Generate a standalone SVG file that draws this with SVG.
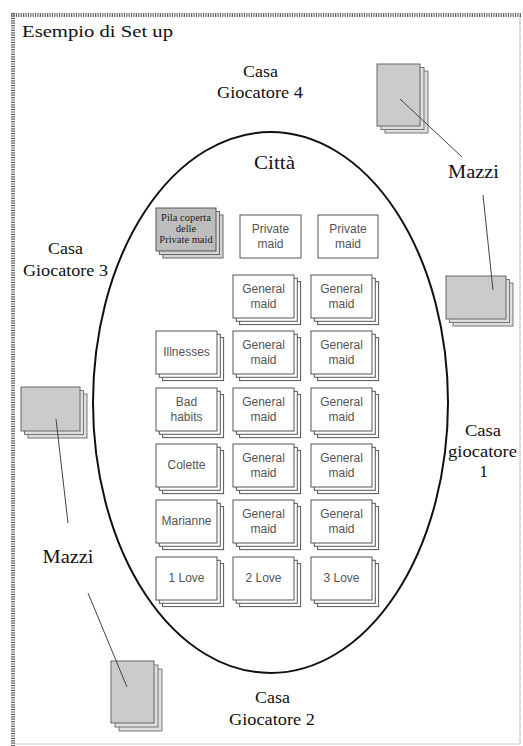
<svg xmlns="http://www.w3.org/2000/svg" width="523" height="746" viewBox="0 0 523 746">
<style>
.lbl{font-family:"Liberation Serif","Times New Roman",serif;font-size:17.5px;fill:#111;text-anchor:middle}
.ct{font-family:"Liberation Sans",Arial,sans-serif;font-size:12px;fill:#555;text-anchor:middle}
.pt{font-family:"Liberation Serif","Times New Roman",serif;font-size:10.5px;fill:#222;text-anchor:middle}
.card{fill:#fff;stroke:#555;stroke-width:1}
.deckf{fill:#cbcbcb;stroke:#666;stroke-width:1}
.deckb{fill:#dedede;stroke:#777;stroke-width:1}
.pilaf{fill:#bdbdbd;stroke:#555;stroke-width:1}
.pilab{fill:#d6d6d6;stroke:#666;stroke-width:1}
.conn{stroke:#444;stroke-width:1;fill:none}
</style>
<rect width="523" height="746" fill="#fff"/>
<g id="frame">
<line x1="13" y1="13" x2="13" y2="746" stroke="#666" stroke-width="4" stroke-dasharray="1.2 1.2"/>
<line x1="11" y1="15" x2="521" y2="15" stroke="#666" stroke-width="4" stroke-dasharray="1.2 1.2"/>
<line x1="520" y1="17" x2="520" y2="744" stroke="#888" stroke-width="1" stroke-dasharray="1 1"/>
<line x1="15" y1="744" x2="520" y2="744" stroke="#ccc" stroke-width="1"/>
</g>
<text class="lbl" x="22" y="37" style="text-anchor:start" textLength="151" lengthAdjust="spacingAndGlyphs">Esempio di Set up</text>
<g id="citta">
<ellipse cx="270.5" cy="402.5" rx="177.5" ry="270.5" fill="none" stroke="#111" stroke-width="2"/>
<text class="lbl" x="274.5" y="169" style="font-size:19px" textLength="41" lengthAdjust="spacingAndGlyphs">Città</text>
</g>
<g id="casa4">
<text class="lbl" x="260.5" y="77" textLength="35" lengthAdjust="spacingAndGlyphs">Casa</text>
<text class="lbl" x="260" y="98" textLength="86" lengthAdjust="spacingAndGlyphs">Giocatore 4</text>
</g>
<g id="casa3">
<text class="lbl" x="65.5" y="254" textLength="35" lengthAdjust="spacingAndGlyphs">Casa</text>
<text class="lbl" x="65.5" y="276" textLength="85" lengthAdjust="spacingAndGlyphs">Giocatore 3</text>
</g>
<g id="casa1">
<text class="lbl" x="483" y="436" textLength="36" lengthAdjust="spacingAndGlyphs">Casa</text>
<text class="lbl" x="482.5" y="457" textLength="69" lengthAdjust="spacingAndGlyphs">giocatore</text>
<text class="lbl" x="483.5" y="477">1</text>
</g>
<g id="casa2">
<text class="lbl" x="272.5" y="703" textLength="35" lengthAdjust="spacingAndGlyphs">Casa</text>
<text class="lbl" x="272" y="725" textLength="86" lengthAdjust="spacingAndGlyphs">Giocatore 2</text>
</g>
<g id="mazzi-right">
<text class="lbl" x="473.5" y="178" style="font-size:19px" textLength="51" lengthAdjust="spacingAndGlyphs">Mazzi</text>
</g>
<g id="mazzi-left">
<text class="lbl" x="68" y="563" style="font-size:19px" textLength="51" lengthAdjust="spacingAndGlyphs">Mazzi</text>
</g>
<g id="deck4">
<rect class="deckb" x="385" y="71" width="43" height="62"/>
<rect class="deckb" x="381" y="67.5" width="43" height="62"/>
<rect class="deckf" x="377" y="64" width="43" height="62"/>
</g>
<g id="deck1">
<rect class="deckb" x="453" y="283" width="60" height="43"/>
<rect class="deckb" x="449.5" y="279.5" width="60" height="43"/>
<rect class="deckf" x="446" y="276" width="60" height="43"/>
</g>
<g id="deck3">
<rect class="deckb" x="28" y="394" width="59" height="44"/>
<rect class="deckb" x="24.5" y="390.5" width="59" height="44"/>
<rect class="deckf" x="21" y="387" width="59" height="44"/>
</g>
<g id="deck2">
<rect class="deckb" x="119" y="669" width="43" height="62"/>
<rect class="deckb" x="115" y="665" width="43" height="62"/>
<rect class="deckf" x="111" y="661" width="43" height="62"/>
</g>
<g id="connectors">
<line class="conn" x1="400" y1="99" x2="462" y2="157"/>
<line class="conn" x1="483" y1="195" x2="493" y2="290"/>
<line class="conn" x1="56" y1="419" x2="68" y2="523"/>
<line class="conn" x1="88" y1="593" x2="127" y2="687"/>
</g>
<g id="pila">
<rect class="pilab" x="163" y="215" width="60" height="43"/>
<rect class="pilab" x="159.5" y="211.5" width="60" height="43"/>
<rect class="pilaf" x="156" y="208" width="60" height="43"/>
<text class="pt" x="186" y="221">Pila coperta</text>
<text class="pt" x="186" y="232">delle</text>
<text class="pt" x="186" y="243">Private maid</text>
</g>
<g id="private1">
<rect class="card" x="240" y="215" width="61" height="43"/>
<text class="ct" x="270.5" y="233">Private</text>
<text class="ct" x="270.5" y="248">maid</text>
</g>
<g id="private2">
<rect class="card" x="318" y="215" width="60" height="43"/>
<text class="ct" x="348" y="233">Private</text>
<text class="ct" x="348" y="248">maid</text>
</g>
<defs>
<g id="stack">
<rect class="card" x="6.6" y="6.6" width="61" height="43"/>
<rect class="card" x="3.3" y="3.3" width="61" height="43"/>
<rect class="card" x="0" y="0" width="61" height="43"/>
</g>
</defs>
<g id="gm1a"><use href="#stack" x="233" y="275"/><text class="ct" x="263.5" y="293">General</text><text class="ct" x="263.5" y="308">maid</text></g>
<g id="gm1b"><use href="#stack" x="311" y="275"/><text class="ct" x="341.5" y="293">General</text><text class="ct" x="341.5" y="308">maid</text></g>
<g id="illnesses"><use href="#stack" x="156" y="331"/><text class="ct" x="186.5" y="356">Illnesses</text></g>
<g id="gm2a"><use href="#stack" x="233" y="331"/><text class="ct" x="263.5" y="349">General</text><text class="ct" x="263.5" y="364">maid</text></g>
<g id="gm2b"><use href="#stack" x="311" y="331"/><text class="ct" x="341.5" y="349">General</text><text class="ct" x="341.5" y="364">maid</text></g>
<g id="badhabits"><use href="#stack" x="156" y="388"/><text class="ct" x="186.5" y="406">Bad</text><text class="ct" x="186.5" y="421">habits</text></g>
<g id="gm3a"><use href="#stack" x="233" y="388"/><text class="ct" x="263.5" y="406">General</text><text class="ct" x="263.5" y="421">maid</text></g>
<g id="gm3b"><use href="#stack" x="311" y="388"/><text class="ct" x="341.5" y="406">General</text><text class="ct" x="341.5" y="421">maid</text></g>
<g id="colette"><use href="#stack" x="156" y="444"/><text class="ct" x="186.5" y="469">Colette</text></g>
<g id="gm4a"><use href="#stack" x="233" y="444"/><text class="ct" x="263.5" y="462">General</text><text class="ct" x="263.5" y="477">maid</text></g>
<g id="gm4b"><use href="#stack" x="311" y="444"/><text class="ct" x="341.5" y="462">General</text><text class="ct" x="341.5" y="477">maid</text></g>
<g id="marianne"><use href="#stack" x="156" y="500"/><text class="ct" x="186.5" y="525">Marianne</text></g>
<g id="gm5a"><use href="#stack" x="233" y="500"/><text class="ct" x="263.5" y="518">General</text><text class="ct" x="263.5" y="533">maid</text></g>
<g id="gm5b"><use href="#stack" x="311" y="500"/><text class="ct" x="341.5" y="518">General</text><text class="ct" x="341.5" y="533">maid</text></g>
<g id="love1"><use href="#stack" x="156" y="557"/><text class="ct" x="186.5" y="582">1 Love</text></g>
<g id="love2"><use href="#stack" x="233" y="557"/><text class="ct" x="263.5" y="582">2 Love</text></g>
<g id="love3"><use href="#stack" x="311" y="557"/><text class="ct" x="341.5" y="582">3 Love</text></g>
</svg>
